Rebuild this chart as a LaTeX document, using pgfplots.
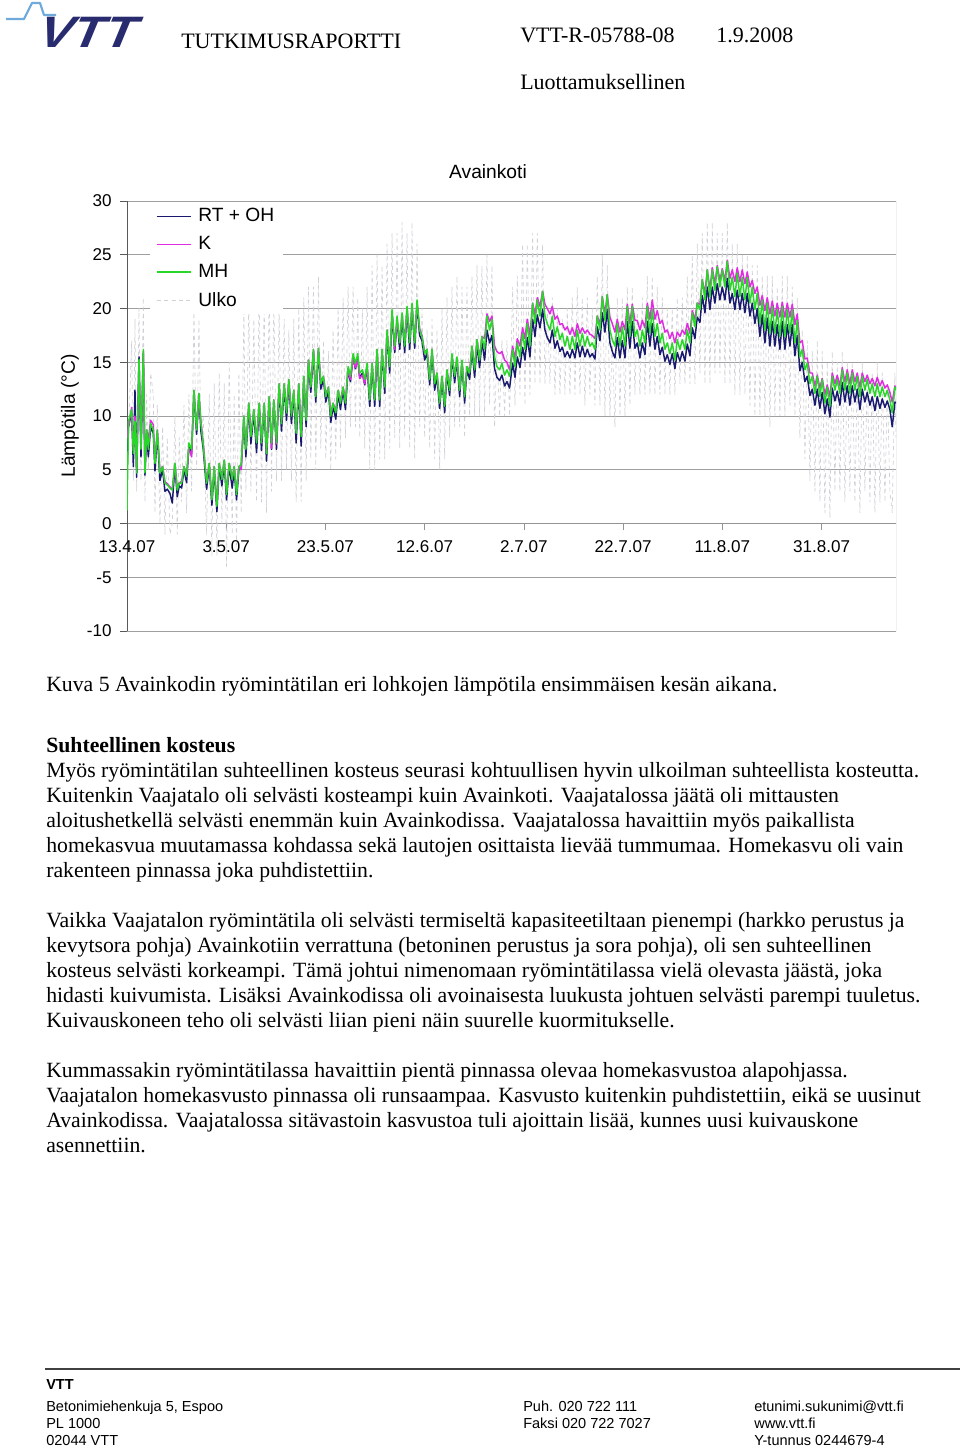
\documentclass[border=0pt]{standalone}
\usepackage{fontspec}
\setmainfont{Liberation Serif}
\setsansfont{Liberation Sans}
\newfontfamily\chartfont{Liberation Sans}
\newfontfamily\logofont[FakeSlant=0.35]{Liberation Sans Bold}
\usepackage{graphicx}
\usepackage{pgfplots}
\usepackage{pgfplotstable}
\pgfplotsset{compat=1.18}
\definecolor{rtc}{RGB}{25,25,112}
\definecolor{kc}{RGB}{225,45,225}
\definecolor{mhc}{RGB}{40,215,40}
\definecolor{ulc}{RGB}{208,208,214}
\definecolor{logonavy}{RGB}{40,44,110}
\definecolor{logoblue}{RGB}{110,170,220}
\newcommand\bodyfont{\fontsize{16.3}{19}\selectfont}
\newcommand\headfont{\fontsize{16.5}{19}\selectfont}
\newcommand\cfont{\chartfont\fontsize{12.8}{15}\selectfont}
\newcommand\lfont{\chartfont\fontsize{14.4}{17}\selectfont}
\newcommand\footfont{\chartfont\fontsize{10.9}{13}\selectfont}

\pgfplotstableread{
x rt k mh u
0.00 5.0 8.0 1.2 2
0.30 9.0 9.0 9.5 8
0.94 10.3 10.8 10.6 17
1.28 5.3 6.8 6.5 4
1.61 12.4 10.0 9.5 19
1.95 4.3 5.0 4.7 3
2.42 15.5 15.0 15.3 20
2.82 6.2 7.2 6.9 4
3.29 15.8 16.0 16.2 21
3.62 4.5 5.0 4.7 2
3.96 8.4 8.7 8.7 12
4.30 6.2 7.8 6.9 5
4.77 9.0 9.6 9.3 14
5.30 8.4 9.2 8.7 12
5.64 4.9 5.8 5.6 1
6.11 8.4 8.7 8.7 11
6.64 4.0 4.9 4.7 0
7.18 5.0 5.3 5.3 9
7.65 3.0 3.9 3.75 -1
8.12 3.2 3.7 3.6 8
8.66 2.8 3.4 3.3 -1
9.13 1.9 3.2 3.1 0
9.66 5.3 5.6 5.6 10
10.13 2.5 3.3 3.1 -1
10.54 3.5 3.8 3.75 8
11.01 3.3 3.9 3.75 2
11.48 5.0 5.3 5.3 11
12.01 3.8 4.6 4.4 1
12.48 7.2 7.0 7.5 12
13.02 6.5 6.2 6.9 3
13.49 12.1 12.4 12.4 20
14.03 8.3 8.9 8.7 5
14.50 11.8 12.1 12.1 19
14.90 8.6 9.5 9.3 8
15.37 6.9 7.5 7.3 10
16.04 3.2 3.9 3.75 -1
16.58 5.3 5.6 5.6 12
17.11 1.7 2.4 2.2 -3
17.58 5.0 5.3 5.3 13
18.12 1.1 1.8 1.6 -3
18.59 5.3 5.6 5.6 14
19.13 3.5 4.3 4.1 0
19.60 5.6 5.9 5.9 13
20.07 2.2 2.9 2.7 -4
20.60 5.3 5.6 5.6 15
21.21 3.3 4.3 4.1 -1
21.61 5.0 5.3 5.3 12
22.08 2.2 2.9 2.7 -2
22.55 5.0 5.3 5.3 14
23.02 5.2 5.0 5.5 1
23.56 9.7 10.0 10.0 20
23.96 6.2 7.1 6.9 3
24.56 10.9 11.2 11.2 21
24.97 7.4 8.3 8.1 3
25.57 10.3 10.6 10.6 19
26.11 6.6 7.7 7.5 2
26.64 10.9 11.2 11.2 22
27.11 6.8 7.7 7.5 2
27.65 10.9 11.2 11.2 21
28.12 5.8 6.7 6.5 1
28.66 11.5 11.8 11.8 22
29.13 6.9 7.0 7.5 3
29.60 11.2 11.5 11.5 21
30.13 6.9 7.4 7.5 4
30.67 12.7 13.0 13.0 20
31.14 8.6 9.5 9.3 4
31.68 12.7 13.0 13.0 19
32.15 9.6 10.5 10.3 5
32.62 13.1 13.4 13.4 18
33.15 9.3 10.2 10.0 4
33.62 12.1 12.4 12.4 19
34.09 7.5 8.6 8.4 2
34.63 12.7 13.0 13.0 20
35.10 7.2 8.3 8.1 2
35.64 13.4 13.7 13.7 21
36.11 9.0 9.8 9.6 4
36.58 14.9 15.2 15.2 22
37.05 12.2 12.9 12.7 6
37.58 15.9 16.2 16.2 22
38.05 11.3 12.0 11.8 5
38.59 16.0 16.3 16.3 23
39.06 12.5 13.2 13.0 7
39.60 13.4 13.7 13.7 17
40.07 11.3 12.0 11.8 6
40.60 12.4 12.7 12.7 16
41.07 9.4 10.2 10.0 5
41.54 10.9 11.2 11.2 18
42.08 9.7 10.5 10.3 6
42.55 12.1 12.4 12.4 20
43.02 10.6 11.4 11.2 7
43.56 12.4 12.7 12.7 21
44.03 10.6 11.4 11.2 8
44.56 14.3 14.3 14.6 22
45.03 13.2 13.4 13.7 9
45.57 15.5 15.3 15.8 22
46.04 14.4 14.5 14.9 9
46.51 15.5 15.2 15.8 21
46.91 13.5 13.5 14.0 8
47.45 14.0 13.8 14.3 20
47.92 12.9 13.0 13.4 7
48.39 14.6 14.6 14.9 22
48.93 10.9 11.6 11.5 5
49.40 14.6 14.9 14.9 24
49.93 10.9 11.7 11.5 5
50.40 15.9 16.2 16.2 25
50.94 10.9 11.7 11.5 6
51.41 15.9 16.2 16.2 24
51.95 12.1 12.9 12.7 6
52.42 17.7 18.0 18.0 26
52.95 14.0 14.8 14.6 7
53.42 19.5 19.7 19.9 27
53.96 15.9 16.2 16.5 8
54.43 18.9 19.0 19.3 27
54.97 16.2 16.9 16.8 7
55.44 19.2 19.4 19.6 28
55.97 15.9 17.0 16.5 8
56.44 19.8 20.0 20.2 27
56.98 16.2 17.3 16.8 7
57.45 20.1 20.3 20.5 28
57.99 16.3 17.0 16.8 6
58.46 20.4 20.6 20.8 26
58.99 17.5 18.1 18.0 9
59.46 17.0 17.5 17.4 20
60.00 15.2 15.9 15.8 8
60.47 15.9 16.2 16.2 18
61.01 12.9 13.6 13.4 7
61.48 15.9 16.2 16.2 19
62.01 12.4 13.2 13.0 6
62.48 13.7 14.0 14.0 18
63.02 10.7 11.4 11.2 5
63.49 13.4 13.7 13.7 20
64.03 10.3 11.1 10.9 6
64.50 14.0 14.3 14.3 21
65.03 11.9 12.6 12.4 8
65.50 15.5 15.6 15.8 22
66.04 13.1 13.9 13.7 9
66.51 15.2 15.3 15.5 23
67.05 11.8 12.6 12.4 9
67.52 14.9 15.0 15.2 22
68.05 11.2 12.0 11.8 8
68.52 14.3 14.6 14.6 22
69.06 13.4 14.2 14.0 10
69.53 16.2 16.5 16.5 23
70.07 13.6 14.5 14.3 10
70.54 16.6 17.1 17.1 24
71.07 14.5 15.4 15.2 10
71.54 16.9 17.4 17.4 24
72.08 15.2 17.2 16.2 10
72.55 18.0 19.5 19.3 25
73.09 16.8 18.8 18.0 11
73.56 17.5 19.3 19.0 24
74.09 14.4 16.5 15.5 9
74.56 13.6 16.0 14.6 16
75.10 13.3 15.8 14.3 10
75.57 13.8 16.0 14.9 17
76.11 12.8 15.2 13.8 10
76.58 13.2 15.0 14.3 17
77.11 12.6 14.3 13.7 10
77.73 14.9 16.5 16.2 22
78.20 13.6 15.3 14.6 11
78.67 15.5 17.2 16.8 23
79.21 14.5 16.5 15.5 12
79.74 16.4 18.2 17.7 26
80.21 15.2 17.2 16.2 11
80.68 17.3 19.0 18.6 26
81.22 15.5 17.5 16.5 12
81.76 19.0 20.5 20.5 27
82.23 17.4 19.4 18.6 13
82.70 19.4 21.0 20.8 27
83.24 18.2 20.2 19.3 13
83.77 19.9 21.6 21.6 26
84.24 18.0 20.4 19.3 13
84.71 17.3 20.0 18.6 20
85.25 16.8 19.5 18.0 13
85.72 18.0 20.2 19.3 21
86.26 16.3 19.0 17.4 12
86.73 17.0 19.3 18.3 20
87.27 16.0 18.5 17.1 12
87.74 16.4 18.6 17.7 19
88.27 15.5 18.0 16.5 12
88.74 16.0 18.3 17.4 20
89.28 15.4 17.6 16.2 12
89.75 16.2 18.2 17.4 21
90.29 15.4 17.4 16.2 12
90.76 16.8 18.6 18.0 22
91.30 15.5 17.7 16.5 12
91.77 16.5 18.2 17.7 21
92.30 15.5 17.7 16.5 11
92.77 16.2 18.0 17.4 21
93.31 15.5 17.6 16.5 12
93.78 15.8 17.5 16.8 20
94.32 15.3 17.2 16.2 11
94.79 18.3 19.3 19.3 23
95.33 17.0 18.5 18.0 11
95.80 19.6 21.1 21.1 25
96.33 17.8 19.5 18.9 10
96.80 19.9 21.3 21.3 24
97.34 16.8 19.2 18.0 10
97.81 16.0 18.6 17.1 17
98.35 15.4 17.8 16.5 9
98.82 17.3 19.0 18.6 21
99.36 15.4 17.8 16.5 10
99.83 17.0 18.8 18.3 21
100.37 15.4 18.0 16.5 10
100.84 18.8 20.4 20.2 22
101.37 16.3 18.6 17.4 11
101.84 18.8 20.4 20.2 22
102.38 16.3 18.9 17.4 12
102.85 16.8 18.9 18.0 20
103.39 15.4 18.0 16.5 12
103.86 16.8 18.9 18.0 21
104.40 15.7 18.2 16.8 12
104.87 18.8 20.5 20.2 23
105.40 16.5 19.0 17.7 12
105.87 18.6 20.8 19.9 23
106.41 16.2 19.0 17.4 12
106.88 17.4 19.8 18.6 22
107.42 15.7 18.6 16.8 12
107.89 16.4 18.9 17.7 21
108.43 15.1 17.8 16.2 12
108.90 15.7 18.0 16.8 20
109.43 14.8 17.2 15.8 12
109.90 15.8 17.8 16.8 20
110.44 14.4 16.8 15.2 12
110.91 15.9 17.8 17.1 21
111.45 15.1 17.4 16.2 13
111.92 16.0 18.0 17.1 21
112.46 15.1 17.6 16.2 13
112.93 16.7 18.6 18.0 23
113.47 15.6 17.7 16.8 13
113.94 18.2 19.8 19.6 25
114.47 17.2 19.0 18.3 13
114.94 19.2 20.5 20.5 26
115.48 18.7 20.4 19.9 14
115.95 21.2 22.7 22.7 27
116.49 19.6 21.4 20.8 13
116.96 22.0 23.6 23.6 28
117.50 19.9 21.8 21.1 13
117.97 22.0 23.8 23.6 28
118.50 20.5 22.3 21.7 14
118.97 22.3 24.0 23.9 27
119.51 20.8 22.6 22.0 14
119.98 22.0 23.7 23.6 27
120.52 20.8 22.6 22.0 13
120.99 22.8 24.5 24.4 28
121.53 20.5 22.8 21.7 13
122.00 21.4 23.6 22.9 26
122.53 19.9 22.5 21.1 12
123.00 21.7 23.8 23.3 26
123.54 19.9 22.5 21.1 12
124.01 21.4 23.6 22.9 25
124.55 19.6 22.3 20.8 12
125.02 21.4 23.4 22.9 25
125.56 19.3 22.0 20.5 11
126.03 20.5 22.6 22.0 24
126.56 18.6 21.4 19.9 10
127.03 20.0 22.0 21.4 24
127.57 17.4 20.3 18.6 10
128.04 19.4 21.2 20.8 23
128.58 16.8 19.8 18.0 10
129.05 19.1 21.0 20.5 23
129.59 16.5 19.5 17.7 9
130.06 18.8 20.7 20.2 23
130.59 16.5 19.3 17.7 10
131.06 18.5 20.5 19.9 22
131.60 16.2 19.2 17.4 10
132.07 18.8 20.6 20.2 23
132.61 16.2 19.2 17.4 10
133.08 18.5 20.5 19.9 23
133.62 16.5 19.2 17.7 11
134.09 18.5 20.4 19.9 22
134.63 15.6 18.5 16.8 10
135.10 17.5 19.5 18.9 21
135.63 14.2 16.8 15.5 8
136.10 15.0 17.0 16.2 18
136.64 13.2 15.3 14.3 6
137.11 13.7 15.4 14.9 17
137.65 11.9 14.0 13.0 4
138.12 12.5 14.0 13.7 16
138.66 11.0 12.8 12.1 3
139.13 12.5 13.8 13.7 17
139.66 10.7 12.6 11.8 2
140.13 12.2 13.5 13.4 16
140.67 10.2 12.0 11.2 1
141.14 11.6 12.9 12.7 15
141.68 9.9 11.8 10.9 0.5
142.15 12.6 14.0 13.7 16
142.69 11.4 13.0 12.4 3
143.16 12.3 13.8 13.4 15
143.69 11.0 12.8 12.1 3
144.16 13.1 14.5 14.3 16
144.70 11.3 13.2 12.4 2
145.17 12.8 14.3 14.0 15
145.71 11.0 13.0 12.1 3
146.18 12.8 14.3 14.0 15
146.72 11.3 13.2 12.4 2
147.19 12.5 14.0 13.7 14
147.73 10.6 12.7 11.8 1
148.20 12.5 14.0 13.7 15
148.73 11.3 13.2 12.4 3
149.20 12.2 13.8 13.4 14
149.74 11.0 13.0 12.1 2
150.21 11.8 13.5 13.0 14
150.75 10.5 12.8 11.8 1
151.22 11.8 13.6 13.0 15
151.76 10.7 12.8 11.8 2
152.23 11.6 13.3 12.7 14
152.77 10.8 12.6 11.8 2
153.24 11.4 12.9 12.4 13
153.77 10.6 12.2 11.5 3
154.24 9.0 11.3 10.3 1
154.78 11.3 12.8 12.7 14
155.00 11.2 12.6 12.4 8
}\tempdata

\begin{document}
\begin{tikzpicture}[x=0.75pt,y=0.75pt]
\path[fill=white] (0,0) rectangle (960,-1446);

% logo
\draw[logoblue, line width=1.6pt, line join=round] (6,-19) -- (24,-19) -- (32,-3) -- (40,-3) -- (44,-15) -- (56,-15);
\node[anchor=base west, inner sep=0pt, text=logonavy] at (34,-47) {\scalebox{1.18}[1]{\logofont\fontsize{33}{36}\selectfont VTT}};

% header
\node[anchor=base west, inner sep=0pt] at (181,-48) {\headfont TUTKIMUSRAPORTTI};
\node[anchor=base west, inner sep=0pt] at (520,-42) {\headfont VTT-R-05788-08};
\node[anchor=base west, inner sep=0pt] at (716,-42) {\headfont 1.9.2008};
\node[anchor=base west, inner sep=0pt] at (520,-89) {\headfont Luottamuksellinen};

% chart title and y label
\node[anchor=base, inner sep=0pt] at (488,-178) {\lfont Avainkoti};
\node[rotate=90, inner sep=0pt] at (70,-416) {\lfont Lämpötila (°C)};

\begin{axis}[
  at={(95.25pt,-473.25pt)}, anchor=south west,
  scale only axis, width=576.75pt, height=322.5pt,
  xmin=0, xmax=155, ymin=-10, ymax=30,
  axis x line=middle, axis y line=left,
  x axis line style={-, draw=gray!85, line width=0.6pt},
  y axis line style={-, draw=black!65, line width=0.7pt},
  hide obscured x ticks=false, hide obscured y ticks=false,
  xtick={0,20,...,140},
  xticklabels={13.4.07,3.5.07,23.5.07,12.6.07,2.7.07,22.7.07,11.8.07,31.8.07},
  ytick={-10,-5,...,30},
  yticklabels={-10,-5,0,5,10,15,20,25,30},
  tick align=outside, major tick length=5pt,
  xtick style={draw=gray!85, line width=0.6pt},
  ytick style={draw=black!65, line width=0.6pt},
  ymajorgrids, grid style={draw=gray!75, line width=0.6pt},
  tick label style={font=\cfont},
  xticklabel style={yshift=-4pt},
  yticklabel style={xshift=-3pt},
  /pgf/number format/assume math mode=true,
  legend style={at={(axis description cs:0.029,0.997)}, anchor=north west,
    draw=none, fill=white, font=\lfont, row sep=6.5pt,
    inner xsep=5pt, inner ysep=3pt, nodes={inner sep=1.5pt}},
  legend cell align=left,
  legend image code/.code={\draw[#1] (0pt,0pt) -- (25.5pt,0pt); \path (29pt,0pt);},
  no markers,
  every axis plot/.append style={line join=round},
]
\addplot[ulc, line width=0.5pt, dash pattern=on 3pt off 2.5pt, forget plot] table[x=x,y=u]{\tempdata};
\addplot[rtc, line width=1.1pt] table[x=x,y=rt]{\tempdata};
\addlegendentry{RT + OH}
\addplot[kc, line width=1.1pt] table[x=x,y=k]{\tempdata};
\addlegendentry{K}
\addplot[mhc, line width=1.1pt] table[x=x,y=mh]{\tempdata};
\addlegendentry{MH}
\addlegendimage{ulc, line width=0.7pt, dash pattern=on 3pt off 2.5pt}
\addlegendentry{Ulko}
\draw[gray!85, line width=0.6pt] (axis cs:155,-10) -- (axis cs:155,30);
\end{axis}

% caption and body text
\node[anchor=base west, inner sep=0pt] at (46,-691) {\bodyfont Kuva 5 Avainkodin ryömintätilan eri lohkojen lämpötila ensimmäisen kesän aikana.};
\node[anchor=base west, inner sep=0pt] at (46,-752) {\bodyfont\bfseries Suhteellinen kosteus};
\node[anchor=base west, inner sep=0pt] at (46,-777) {\bodyfont Myös ryömintätilan suhteellinen kosteus seurasi kohtuullisen hyvin ulkoilman suhteellista kosteutta.};
\node[anchor=base west, inner sep=0pt] at (46,-802) {\bodyfont Kuitenkin Vaajatalo oli selvästi kosteampi kuin Avainkoti. Vaajatalossa jäätä oli mittausten};
\node[anchor=base west, inner sep=0pt] at (46,-827) {\bodyfont aloitushetkellä selvästi enemmän kuin Avainkodissa. Vaajatalossa havaittiin myös paikallista};
\node[anchor=base west, inner sep=0pt] at (46,-852) {\bodyfont homekasvua muutamassa kohdassa sekä lautojen osittaista lievää tummumaa. Homekasvu oli vain};
\node[anchor=base west, inner sep=0pt] at (46,-877) {\bodyfont rakenteen pinnassa joka puhdistettiin.};
\node[anchor=base west, inner sep=0pt] at (46,-927) {\bodyfont Vaikka Vaajatalon ryömintätila oli selvästi termiseltä kapasiteetiltaan pienempi (harkko perustus ja};
\node[anchor=base west, inner sep=0pt] at (46,-952) {\bodyfont kevytsora pohja) Avainkotiin verrattuna (betoninen perustus ja sora pohja), oli sen suhteellinen};
\node[anchor=base west, inner sep=0pt] at (46,-977) {\bodyfont kosteus selvästi korkeampi. Tämä johtui nimenomaan ryömintätilassa vielä olevasta jäästä, joka};
\node[anchor=base west, inner sep=0pt] at (46,-1002) {\bodyfont hidasti kuivumista. Lisäksi Avainkodissa oli avoinaisesta luukusta johtuen selvästi parempi tuuletus.};
\node[anchor=base west, inner sep=0pt] at (46,-1027) {\bodyfont Kuivauskoneen teho oli selvästi liian pieni näin suurelle kuormitukselle.};
\node[anchor=base west, inner sep=0pt] at (46,-1077) {\bodyfont Kummassakin ryömintätilassa havaittiin pientä pinnassa olevaa homekasvustoa alapohjassa.};
\node[anchor=base west, inner sep=0pt] at (46,-1102) {\bodyfont Vaajatalon homekasvusto pinnassa oli runsaampaa. Kasvusto kuitenkin puhdistettiin, eikä se uusinut};
\node[anchor=base west, inner sep=0pt] at (46,-1127) {\bodyfont Avainkodissa. Vaajatalossa sitävastoin kasvustoa tuli ajoittain lisää, kunnes uusi kuivauskone};
\node[anchor=base west, inner sep=0pt] at (46,-1152) {\bodyfont asennettiin.};

% footer
\draw[black!75, line width=0.9pt] (45,-1369) -- (960,-1369);
\node[anchor=base west, inner sep=0pt] at (46,-1389) {\footfont\bfseries VTT};
\node[anchor=base west, inner sep=0pt] at (46,-1411) {\footfont Betonimiehenkuja 5, Espoo};
\node[anchor=base west, inner sep=0pt] at (46,-1428) {\footfont PL 1000};
\node[anchor=base west, inner sep=0pt] at (46,-1445) {\footfont 02044 VTT};
\node[anchor=base west, inner sep=0pt] at (523,-1411) {\footfont Puh. 020 722 111};
\node[anchor=base west, inner sep=0pt] at (523,-1428) {\footfont Faksi 020 722 7027};
\node[anchor=base west, inner sep=0pt] at (754,-1411) {\footfont etunimi.sukunimi@vtt.fi};
\node[anchor=base west, inner sep=0pt] at (754,-1428) {\footfont www.vtt.fi};
\node[anchor=base west, inner sep=0pt] at (754,-1445) {\footfont Y-tunnus 0244679-4};
\end{tikzpicture}
\end{document}
